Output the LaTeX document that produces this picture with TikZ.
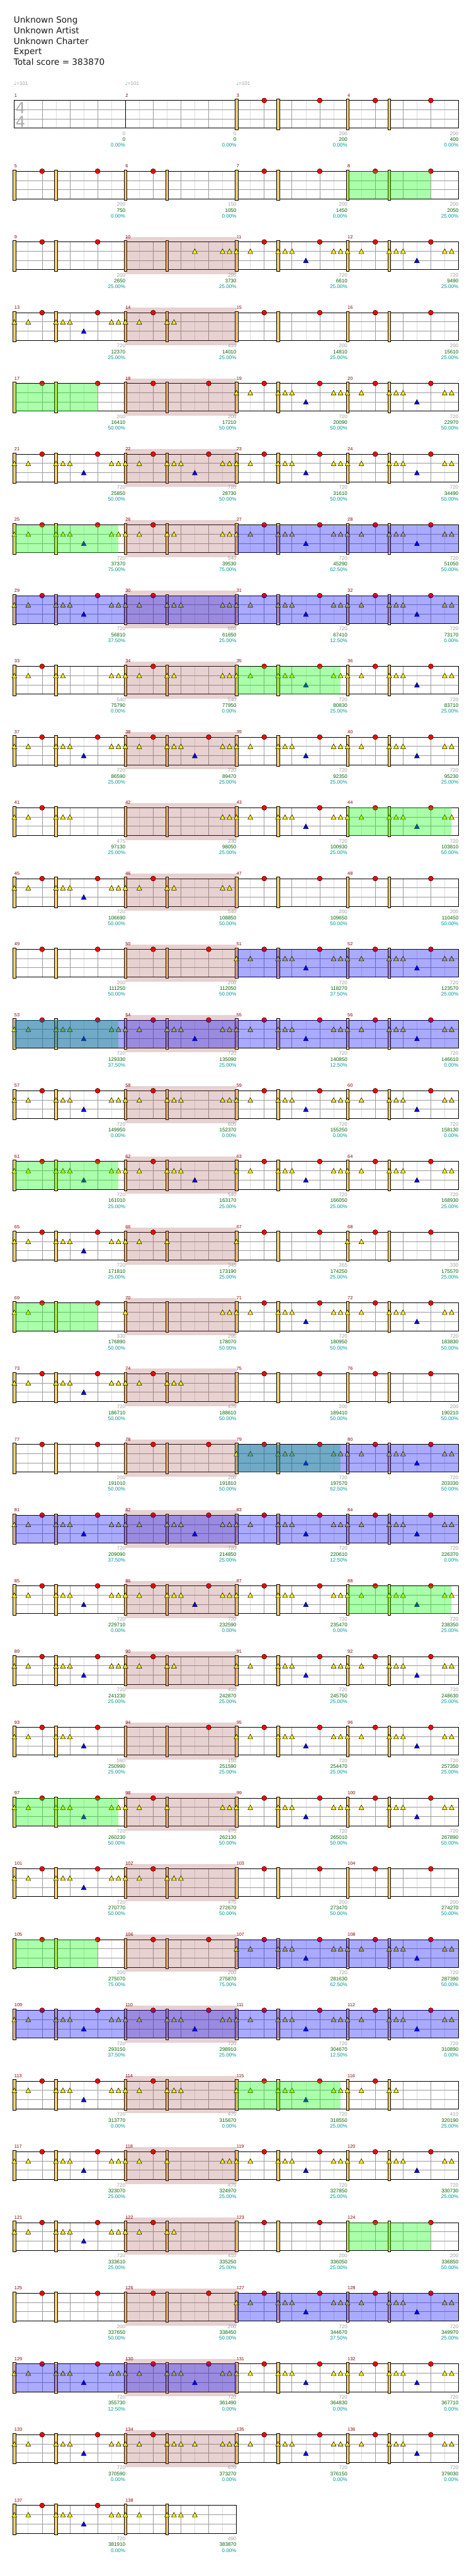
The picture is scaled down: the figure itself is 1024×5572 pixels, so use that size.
\documentclass[tikz,border=0pt]{standalone}
\usepackage{fontspec}
\setmainfont{DejaVu Sans}
\newfontfamily\labfont{Liberation Sans}
\newfontfamily\djvfont{DejaVu Sans}
\definecolor{mnum}{RGB}{140,0,0}
\definecolor{gnum}{RGB}{160,160,160}
\definecolor{cnum}{RGB}{0,100,0}
\definecolor{pnum}{RGB}{0,150,150}
\definecolor{kickc}{RGB}{255,205,110}
\definecolor{pinkc}{RGB}{160,75,75}
\definecolor{beatc}{RGB}{155,155,155}
\definecolor{halfc}{RGB}{222,222,222}
\definecolor{titlec}{RGB}{25,25,25}
\definecolor{tsc}{RGB}{170,170,170}
\newcommand\chpos[1]{%
  \pgfmathtruncatemacro\rowi{(#1-1)/4}%
  \pgfmathtruncatemacro\coli{#1-1-4*\rowi}%
  \pgfmathsetmacro\xo{31+240*\coli}%
  \pgfmathsetmacro\ty{217.3+153*\rowi}}
\def\dmode{0}
\newcommand\drK[1]{\ifnum\dmode=1 \foreach \q in {#1}{\path[kickst] (\xo+\q-3,\ty-3) rectangle (\xo+\q+3,\ty+63);}\fi}
\newcommand\drR[1]{\ifnum\dmode=2 \foreach \q in {#1}{\path[redst] (\xo+\q,\ty) circle[radius=5.3];}\fi}
\newcommand\drY[1]{\ifnum\dmode=2 \foreach \q in {#1}{\path[yelst] (\xo+\q-5.3,\ty+25) -- (\xo+\q+5.3,\ty+25) -- (\xo+\q,\ty+15) -- cycle;}\fi}
\newcommand\drB[1]{\ifnum\dmode=2 \foreach \q in {#1}{\path[bluest] (\xo+\q-5.3,\ty+45) -- (\xo+\q+5.3,\ty+45) -- (\xo+\q,\ty+35) -- cycle;}\fi}
\def\patZ{}
\def\patK{\drK{0,90}\drR{60,180}}
\def\patL{\drK{0,90}\drR{60}}
\def\patM{\drK{0,90}\drY{150,210,225}}
\def\patG{\drK{0,90}\drR{60,180}\drY{0,30,90,105,120,210,225}\drB{150}}
\def\patJ{\drK{0,90}\drR{60}\drY{0,30,90,105}}
\def\patF{\drK{0,90}\drR{60}\drY{0,30,90,105,210,225}}
\def\patT{\drK{0,90}\drR{60}\drY{0,30,90,105,120,210,225}}
\def\patH{\drK{0,90}\drR{60}\drY{0,30,90,105,120}}
\def\patW{\drK{0,90}\drR{60}\drY{0,30,90,210,225}}
\def\patE{\drK{0,90}\drY{210,225}}
\def\patI{\drK{0,90}\drR{60}\drY{0,30,90,105,120}\drB{150}}
\def\patN{\drK{0,90}\drR{60}\drY{0,30,90}}
\def\patO{\drK{0,90}\drR{60,180}\drY{0}}
\def\patP{\drK{0,90}\drR{60,180}\drY{0,30}}
\def\patQ{\drK{0,90}\drY{0,210,225}}
\def\patU{\drK{0,90}\drR{60,180}\drY{0,30,90,105,120}\drB{150}}
\def\patV{\drK{0,90}\drR{180}}
\def\patX{\drK{0,90}\drR{60}\drY{0,30,90,105,120,150,210,225}}
\def\patY{\drK{0,90}\drY{0,30,90,105,120,150}}
\def\mdata{1/Z/0/0/0.00,2/Z/0/0/0.00,3/K/200/200/0.00,4/K/200/400/0.00,
5/K/200/750/0.00,6/L/150/1050/0.00,7/K/200/1450/0.00,8/K/200/2050/25.00,
9/K/200/2650/25.00,10/M/295/3730/25.00,11/G/720/6610/25.00,12/G/720/9490/25.00,
13/G/720/12370/25.00,14/J/410/14010/25.00,15/K/200/14810/25.00,16/K/200/15610/25.00,
17/K/200/16410/50.00,18/K/200/17210/50.00,19/G/720/20090/50.00,20/G/720/22970/50.00,
21/G/720/25850/50.00,22/G/720/28730/50.00,23/G/720/31610/50.00,24/G/720/34490/50.00,
25/G/720/37370/75.00,26/F/540/39530/75.00,27/G/720/45290/62.50,28/G/720/51050/50.00,
29/G/720/56810/37.50,30/T/605/61650/25.00,31/G/720/67410/12.50,32/G/720/73170/0.00,
33/F/540/75790/0.00,34/F/540/77950/0.00,35/G/720/80830/25.00,36/G/720/83710/25.00,
37/G/720/86590/25.00,38/G/720/89470/25.00,39/G/720/92350/25.00,40/G/720/95230/25.00,
41/H/475/97130/25.00,42/E/230/98050/25.00,43/G/720/100930/25.00,44/G/720/103810/50.00,
45/G/720/106690/50.00,46/F/540/108850/50.00,47/K/200/109650/50.00,48/K/200/110450/50.00,
49/K/200/111250/50.00,50/K/200/112050/50.00,51/G/720/118270/37.50,52/G/720/123570/25.00,
53/G/720/129330/37.50,54/G/720/135090/25.00,55/G/720/140850/12.50,56/G/720/146610/0.00,
57/G/720/149950/0.00,58/T/605/152370/0.00,59/G/720/155250/0.00,60/G/720/158130/0.00,
61/G/720/161010/25.00,62/I/540/163170/25.00,63/G/720/166050/25.00,64/G/720/168930/25.00,
65/G/720/171810/25.00,66/N/345/173190/25.00,67/O/265/174250/25.00,68/P/330/175570/25.00,
69/P/330/176890/50.00,70/Q/295/178070/50.00,71/G/720/180950/50.00,72/G/720/183830/50.00,
73/G/720/186710/50.00,74/H/475/188610/50.00,75/K/200/189410/50.00,76/K/200/190210/50.00,
77/K/200/191010/50.00,78/K/200/191810/50.00,79/G/720/197570/62.50,80/G/720/203330/50.00,
81/G/720/209090/37.50,82/G/720/214850/25.00,83/G/720/220610/12.50,84/G/720/226370/0.00,
85/G/720/229710/0.00,86/G/720/232590/0.00,87/G/720/235470/0.00,88/G/720/238350/25.00,
89/G/720/241230/25.00,90/J/410/242870/25.00,91/G/720/245750/25.00,92/G/720/248630/25.00,
93/U/590/250990/25.00,94/V/150/251590/25.00,95/G/720/254470/25.00,96/G/720/257350/25.00,
97/G/720/260230/50.00,98/W/475/262130/50.00,99/G/720/265010/50.00,100/G/720/267890/50.00,
101/G/720/270770/50.00,102/H/475/272670/50.00,103/K/200/273470/50.00,104/K/200/274270/50.00,
105/K/200/275070/75.00,106/K/200/275870/75.00,107/G/720/281630/62.50,108/G/720/287390/50.00,
109/G/720/293150/37.50,110/G/720/298910/25.00,111/G/720/304670/12.50,112/G/720/310890/0.00,
113/G/720/313770/0.00,114/H/475/315670/0.00,115/G/720/318550/25.00,116/J/410/320190/25.00,
117/G/720/323070/25.00,118/W/475/324970/25.00,119/G/720/327850/25.00,120/G/720/330730/25.00,
121/G/720/333610/25.00,122/J/410/335250/25.00,123/K/200/336050/25.00,124/K/200/336850/50.00,
125/K/200/337650/50.00,126/K/200/338450/50.00,127/G/720/344670/37.50,128/G/720/349970/25.00,
129/G/720/355730/12.50,130/G/720/361490/0.00,131/G/720/364830/0.00,132/G/720/367710/0.00,
133/G/720/370590/0.00,134/X/670/373270/0.00,135/G/720/376150/0.00,136/G/720/379030/0.00,
137/G/720/381910/0.00,138/Y/490/383870/0.00}
\begin{document}
\begin{tikzpicture}[x=1pt,y=-1pt,
  kickst/.style={draw=black,line width=0.8pt,fill=kickc},
  redst/.style={draw=black,line width=0.7pt,fill=red},
  yelst/.style={draw=black,line width=0.7pt,fill=yellow},
  bluest/.style={draw=black,line width=0.7pt,fill=blue},
  halfl/.style={draw=halfc,line width=1pt},
  beatl/.style={draw=beatc,line width=1pt},
  staffb/.style={draw=black,line width=1pt},
  pinkov/.style={fill=pinkc,fill opacity=0.25},
  greenov/.style={fill=green,fill opacity=0.333},
  blueov/.style={fill=blue,fill opacity=0.333},
  ttl/.style={anchor=base west,inner sep=0pt,text=titlec,font=\fontsize{18.5}{22}\selectfont},
  tsig/.style={anchor=center,inner sep=0pt,text=tsc,font=\fontsize{33}{33}\selectfont},
  tempo/.style={anchor=base west,inner sep=0pt,text=gnum,font=\labfont\fontsize{11}{13}\selectfont},
  mlbl/.style={anchor=base west,inner sep=0pt,text=mnum,font=\labfont\fontsize{10}{12}\selectfont},
  lblg/.style={anchor=base east,inner sep=0pt,text=gnum,font=\labfont\fontsize{11}{13}\selectfont},
  lblc/.style={anchor=base east,inner sep=0pt,text=cnum,font=\labfont\fontsize{11}{13}\selectfont},
  lblp/.style={anchor=base east,inner sep=0pt,text=pnum,font=\labfont\fontsize{11}{13}\selectfont}]
\fill[white] (0,0) rectangle (1024,5572);
\useasboundingbox (0,0) rectangle (1024,5572);
% pass 1: staff grid
\foreach \m/\pp/\vg/\vc/\vp in \mdata {
  \chpos{\m}
  \foreach \q in {30,90,150,210}{\draw[halfl] (\xo+\q,\ty) -- (\xo+\q,\ty+60);}
  \foreach \q in {60,120,180}{\draw[beatl] (\xo+\q,\ty) -- (\xo+\q,\ty+60);}
  \draw[beatl] (\xo+0.5,\ty+20) -- (\xo+239.5,\ty+20) (\xo+0.5,\ty+40) -- (\xo+239.5,\ty+40);
  \draw[staffb] (\xo,\ty) rectangle (\xo+240,\ty+60);
}
% pass 2: kick bars
\def\dmode{1}
\foreach \m/\pp/\vg/\vc/\vp in \mdata {\chpos{\m}\csname pat\pp\endcsname}
% pass 3: fill (pink) sections
\foreach \m in {10,14,...,134}{
  \chpos{\m}
  \fill[pinkov] (\xo,\ty-10.6) rectangle (\xo+240,\ty+70);
}
% pass 4: pads and cymbals
\def\dmode{2}
\foreach \m/\pp/\vg/\vc/\vp in \mdata {\chpos{\m}\csname pat\pp\endcsname}
% pass 5: phrases and activations
\foreach \m/\e in {8/180,17/180,25/225,35/225,44/225,53/225,61/225,69/180,79/225,88/225,97/225,105/180,115/225,124/180}{
  \chpos{\m}
  \fill[greenov] (\xo,\ty) rectangle (\xo+\e,\ty+60);
}
\foreach \m in {27,28,29,30,31,32,51,52,53,54,55,56,79,80,81,82,83,84,107,108,109,110,111,112,127,128,129,130}{
  \chpos{\m}
  \fill[blueov] (\xo,\ty) rectangle (\xo+240,\ty+60);
}
% pass 6: texts
\node[ttl] (t1) at (29.5,49.3) {Unknown Song};
\node[ttl] (t2) at (29.5,72.3) {Unknown Artist};
\node[ttl] (t3) at (29.5,95.3) {Unknown Charter};
\node[ttl] (t4) at (29.5,118.3) {Expert};
\node[ttl] (t5) at (29.5,141.3) {Total score = 383870};
\foreach \tx/\tn in {30/1,270/2,510/3}{
  \node[tempo] (tp\tn) at (\tx,184.3) {{\djvfont\fontsize{12}{12}\selectfont\char"2669}=101};
}
\node[tsig] (ts1) at (44.2,233.7) {4};
\node[tsig] (ts2) at (44.2,263.3) {4};
\foreach \m/\pp/\vg/\vc/\vp in \mdata {
  \chpos{\m}
  \node[mlbl] (n\m) at (\xo,\ty-7.6) {\m};
  \node[lblg] (g\m) at (\xo+240,\ty+75.7) {\vg};
  \node[lblc] (c\m) at (\xo+240,\ty+88.6) {\vc};
  \node[lblp] (p\m) at (\xo+240,\ty+101) {\vp\%};
}
\end{tikzpicture}
\end{document}
